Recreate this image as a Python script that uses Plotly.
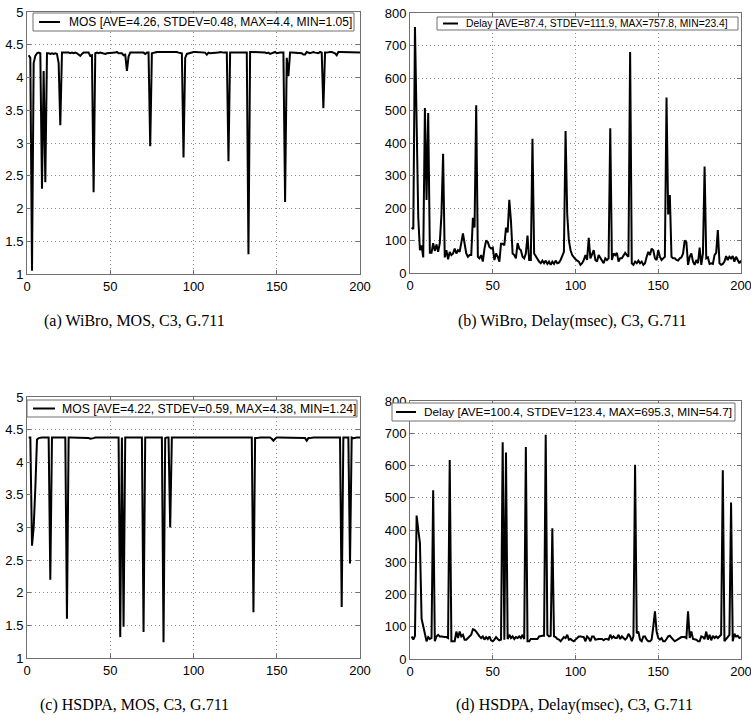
import plotly.graph_objects as go
from plotly.subplots import make_subplots

# sample index 1..200
x_idx = list(range(1, 201))

wibro_mos = [
    4.34, 4.30, 1.05, 4.22, 4.33, 4.37, 4.38, 4.37, 2.30, 4.10,
    2.40, 4.37, 4.37, 4.36, 4.37, 4.36, 4.37, 4.36, 4.22, 3.27,
    4.38, 4.38, 4.39, 4.38, 4.38, 4.37, 4.38, 4.37, 4.38, 4.37,
    4.35, 4.33, 4.36, 4.38, 4.38, 4.38, 4.38, 4.33, 4.34, 2.25,
    4.37, 4.38, 4.37, 4.38, 4.37, 4.36, 4.36, 4.37, 4.37, 4.37,
    4.38, 4.38, 4.38, 4.39, 4.37, 4.37, 4.37, 4.34, 4.35, 4.10,
    4.32, 4.38, 4.38, 4.38, 4.37, 4.37, 4.37, 4.38, 4.38, 4.38,
    4.36, 4.38, 4.38, 2.95, 4.37, 4.38, 4.38, 4.39, 4.39, 4.39,
    4.39, 4.39, 4.39, 4.39, 4.40, 4.39, 4.39, 4.39, 4.39, 4.39,
    4.38, 4.38, 4.37, 2.78, 4.30, 4.36, 4.37, 4.38, 4.38, 4.39,
    4.39, 4.39, 4.39, 4.39, 4.38, 4.38, 4.38, 4.35, 4.38, 4.37,
    4.37, 4.38, 4.38, 4.38, 4.38, 4.39, 4.38, 4.38, 4.38, 4.38,
    2.72, 4.38, 4.38, 4.38, 4.38, 4.38, 4.38, 4.38, 4.38, 4.37,
    4.37, 4.38, 1.30, 4.39, 4.39, 4.39, 4.39, 4.39, 4.39, 4.39,
    4.39, 4.39, 4.38, 4.37, 4.38, 4.36, 4.37, 4.38, 4.39, 4.37,
    4.38, 4.38, 4.38, 4.38, 2.10, 4.30, 4.02, 4.38, 4.38, 4.38,
    4.38, 4.38, 4.38, 4.37, 4.37, 4.35, 4.35, 4.39, 4.38, 4.37,
    4.38, 4.39, 4.38, 4.38, 4.37, 4.39, 4.38, 3.53, 4.38, 4.38,
    4.39, 4.39, 4.39, 4.38, 4.37, 4.34, 4.39, 4.39, 4.39, 4.38,
    4.38, 4.38, 4.38, 4.38, 4.38, 4.38, 4.38, 4.38, 4.38, 4.38,
]

wibro_delay = [
    140, 135, 757, 400, 170, 70, 85, 48, 508, 225,
    492, 62, 62, 92, 68, 88, 65, 92, 180, 367,
    48, 70, 42, 65, 55, 60, 75, 60, 70, 65,
    100, 122, 90, 60, 50, 55, 55, 170, 140, 516,
    50, 45, 55, 35, 75, 100, 95, 80, 75, 78,
    40, 60, 50, 35, 90, 90, 85, 140, 125, 225,
    160, 60, 55, 45, 92, 75, 70, 50, 45, 60,
    115, 40, 40, 413, 60, 50, 45, 35, 30, 38,
    30, 38, 28, 35, 25, 35, 28, 38, 30, 32,
    40, 50, 65, 437, 180, 100, 70, 55, 48, 42,
    38, 35, 25, 30, 40, 55, 40, 108, 45, 55,
    70, 40, 35, 55, 45, 35, 30, 45, 40, 45,
    445, 40, 60, 55, 62, 35, 45, 45, 55, 62,
    55, 50, 680, 30, 25, 35, 30, 38, 30, 35,
    25, 30, 50, 65, 55, 75, 70, 45, 40, 70,
    50, 40, 45, 50, 540, 180, 240, 50, 45, 45,
    40, 38, 45, 48, 60, 100, 95, 25, 50, 60,
    35, 25, 40, 30, 78, 25, 60, 328, 45, 48,
    28, 30, 28, 55, 62, 132, 30, 25, 28, 35,
    52, 40, 50, 45, 52, 35, 50, 40, 30, 38,
]

hsdpa_mos = [
    4.38, 4.38, 2.72, 3.00, 3.60, 4.35, 4.37, 4.38, 4.38, 4.38,
    4.38, 4.38, 4.38, 2.20, 4.38, 4.38, 4.38, 4.38, 4.38, 4.38,
    4.38, 4.38, 4.38, 1.60, 4.38, 4.38, 4.38, 4.37, 4.38, 4.37,
    4.38, 4.38, 4.38, 4.38, 4.38, 4.38, 4.37, 4.36, 4.36, 4.37,
    4.38, 4.38, 4.38, 4.38, 4.38, 4.38, 4.38, 4.38, 4.38, 4.38,
    4.38, 4.38, 4.38, 4.38, 4.38, 1.32, 4.38, 1.48, 4.38, 4.38,
    4.38, 4.38, 4.38, 4.38, 4.38, 4.38, 4.38, 4.38, 4.38, 1.40,
    4.38, 4.38, 4.38, 4.38, 4.38, 4.38, 4.38, 4.38, 4.38, 4.38,
    4.38, 1.24, 4.37, 4.38, 4.38, 3.00, 4.38, 4.38, 4.38, 4.38,
    4.38, 4.38, 4.38, 4.38, 4.37, 4.38, 4.38, 4.38, 4.38, 4.38,
    4.38, 4.38, 4.38, 4.38, 4.38, 4.38, 4.38, 4.38, 4.38, 4.38,
    4.38, 4.38, 4.38, 4.38, 4.38, 4.38, 4.38, 4.38, 4.38, 4.38,
    4.37, 4.38, 4.38, 4.38, 4.38, 4.37, 4.38, 4.38, 4.38, 4.38,
    4.38, 4.37, 4.38, 4.38, 4.38, 1.70, 4.37, 4.37, 4.38, 4.38,
    4.38, 4.38, 4.38, 4.38, 4.38, 4.38, 4.36, 4.33, 4.36, 4.38,
    4.38, 4.38, 4.38, 4.38, 4.38, 4.38, 4.38, 4.38, 4.38, 4.38,
    4.38, 4.38, 4.38, 4.38, 4.38, 4.38, 4.37, 4.33, 4.37, 4.37,
    4.38, 4.38, 4.38, 4.38, 4.38, 4.38, 4.38, 4.38, 4.37, 4.38,
    4.38, 4.38, 4.38, 4.38, 4.38, 4.38, 4.38, 4.38, 1.78, 4.38,
    4.38, 4.38, 4.38, 2.45, 4.38, 4.37, 4.38, 4.38, 4.38, 4.38,
]

hsdpa_delay = [
    70, 60, 72, 445, 400, 360, 125, 100, 70, 55,
    68, 62, 65, 523, 55, 70, 75, 70, 70, 68,
    68, 68, 65, 617, 55, 55, 55, 85, 65, 85,
    70, 75, 60, 60, 65, 70, 75, 92, 90, 85,
    75, 70, 65, 70, 60, 68, 62, 70, 58, 55,
    60, 68, 62, 58, 60, 672, 60, 640, 62, 75,
    65, 70, 62, 68, 65, 70, 65, 75, 62, 657,
    55, 55, 62, 62, 62, 62, 62, 70, 72, 72,
    72, 695, 75, 70, 72, 405, 70, 68, 62, 60,
    55, 62, 68, 65, 75, 60, 62, 58, 55, 60,
    65, 70, 70, 70, 68, 55, 70, 65, 55, 70,
    70, 60, 62, 62, 62, 62, 58, 62, 62, 60,
    75, 65, 70, 65, 65, 75, 62, 70, 65, 60,
    65, 78, 70, 55, 70, 602, 80, 85, 60, 55,
    70, 70, 60, 55, 55, 60, 100, 148, 85, 65,
    60, 65, 55, 55, 62, 70, 72, 65, 60, 55,
    58, 62, 65, 68, 68, 68, 65, 148, 65, 85,
    62, 62, 60, 55, 55, 70, 68, 62, 85, 60,
    75, 58, 72, 65, 70, 65, 70, 75, 585, 55,
    62, 70, 75, 485, 55, 78, 70, 72, 65, 68,
]

legend_texts = [
    "MOS [AVE=4.26, STDEV=0.48, MAX=4.4, MIN=1.05]",
    "Delay [AVE=87.4, STDEV=111.9, MAX=757.8, MIN=23.4]",
    "MOS [AVE=4.22, STDEV=0.59, MAX=4.38, MIN=1.24]",
    "Delay [AVE=100.4, STDEV=123.4, MAX=695.3, MIN=54.7]",
]
captions = [
    "(a) WiBro, MOS, C3, G.711",
    "(b) WiBro, Delay(msec), C3, G.711",
    "(c) HSDPA, MOS, C3, G.711",
    "(d) HSDPA, Delay(msec), C3, G.711",
]

W, H = 751, 728
# plot boxes in pixels: (left, right, top, bottom)
boxes = [(27, 360, 12, 274), (410, 741, 13, 273), (27, 360, 397, 658), (410, 741, 401, 659)]
# legend boxes in pixels: (left, right, top, bottom, line_x0, line_x1, text_x, font)
leg_boxes = [
    (33, 354, 13, 31, 39, 60, 67, 12),
    (437, 738, 17, 30, 443, 458, 464, 10.3),
    (27, 357, 400, 417, 33, 55, 60, 12.2),
    (392, 735, 403, 421, 396, 416, 422, 11.8),
]
caption_pos = [(134, 321), (572, 321), (134, 705), (574, 705)]

series = [wibro_mos, wibro_delay, hsdpa_mos, hsdpa_delay]
is_mos = [True, False, True, False]

fig = make_subplots(rows=2, cols=2)
cells = [(1, 1), (1, 2), (2, 1), (2, 2)]

tick_font = dict(family="Liberation Sans, Arial", size=13, color="black")
axis_style = dict(
    showline=True, mirror="ticks", linecolor="#707070", linewidth=1,
    ticks="inside", ticklen=4, tickcolor="#707070",
    showgrid=True, gridcolor="#8c8c8c", griddash="1px,3px", gridwidth=1,
    zeroline=False, tickfont=tick_font, automargin=False, ticklabeloverflow="allow",
)

for i, (r, c) in enumerate(cells):
    fig.add_trace(
        go.Scatter(x=x_idx, y=series[i], mode="lines", name=legend_texts[i],
                   line=dict(color="black", width=2), showlegend=False),
        row=r, col=c,
    )
    left, right, top, bottom = boxes[i]
    fig.update_xaxes(domain=[left / W, right / W], range=[0, 200],
                     tickvals=[0, 50, 100, 150, 200], row=r, col=c, **axis_style)
    if is_mos[i]:
        yr, yt = [1, 5], [1, 1.5, 2, 2.5, 3, 3.5, 4, 4.5, 5]
    else:
        yr, yt = [0, 800], [0, 100, 200, 300, 400, 500, 600, 700, 800]
    fig.update_yaxes(domain=[1 - bottom / H, 1 - top / H], range=yr,
                     tickvals=yt, row=r, col=c, **axis_style)

    # legend box drawn as shapes + text
    lx0, lx1, ly0, ly1, sx0, sx1, tx, fs = leg_boxes[i]
    fig.add_shape(type="rect", xref="paper", yref="paper",
                  x0=lx0 / W, x1=lx1 / W, y0=1 - ly1 / H, y1=1 - ly0 / H,
                  fillcolor="white", line=dict(color="#707070", width=1), layer="above")
    ym = 1 - (ly0 + ly1) / 2 / H
    fig.add_shape(type="line", xref="paper", yref="paper",
                  x0=sx0 / W, x1=sx1 / W, y0=ym, y1=ym,
                  line=dict(color="black", width=2), layer="above")
    fig.add_annotation(x=tx / W, y=ym, xref="paper", yref="paper", showarrow=False,
                       text=legend_texts[i], xanchor="left", yanchor="middle",
                       font=dict(family="Liberation Sans, Arial", size=fs, color="black"))

    cx, cy = caption_pos[i]
    fig.add_annotation(
        x=cx / W, y=1 - cy / H, xref="paper", yref="paper", showarrow=False,
        text=captions[i], font=dict(family="Liberation Serif, Times New Roman", size=16, color="black"),
        xanchor="center", yanchor="middle",
    )

fig.update_layout(
    template="none", width=W, height=H, margin=dict(l=0, r=0, t=0, b=0),
    paper_bgcolor="white", plot_bgcolor="white", showlegend=False,
)

# drop the default page margin so the 751x728 figure fills the window exactly
fig.write_html(
    "out.html",
    config={"displayModeBar": False},
    post_script="document.body.style.margin='0';document.body.style.overflow='hidden';",
)
